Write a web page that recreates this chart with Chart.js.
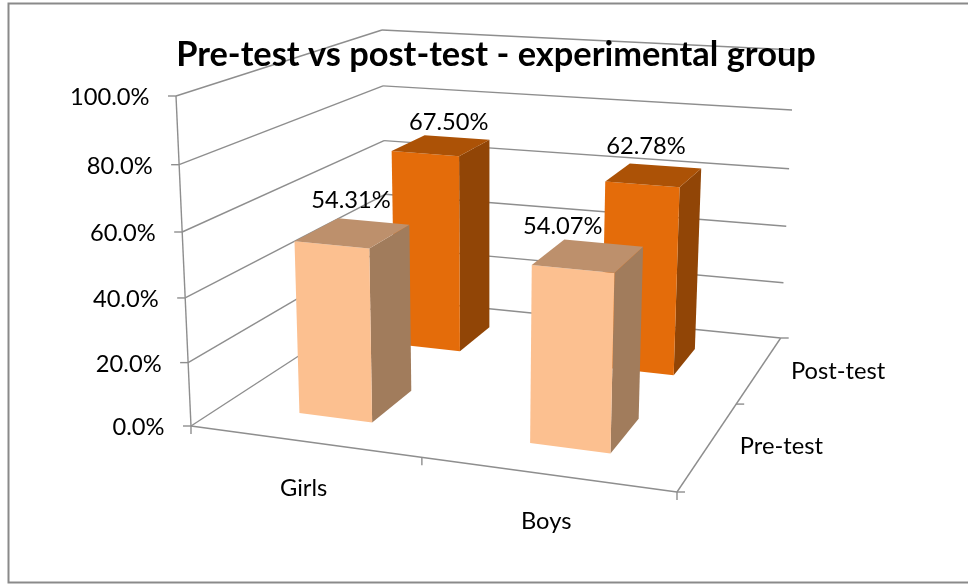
<!DOCTYPE html>
<html>
<head>
<meta charset="utf-8">
<style>
  html, body { margin: 0; padding: 0; background: #fff; }
  canvas { display: block; }
</style>
</head>
<body>
<canvas id="chart" width="968" height="584"></canvas>
<script src="https://cdn.jsdelivr.net/npm/chart.js@4/dist/chart.umd.min.js"></script>
<script>
const categories = ["Girls", "Boys"];
const preTest = [54.31, 54.07];
const postTest = [67.5, 62.78];
const chartTitle = "Pre-test vs post-test - experimental group";

// the 3D box: corners of floor and of the top plane, [front-left, front-right, back-right, back-left]
const floorBox = [[191, 426], [677, 492], [780.7, 338], [387, 298.5]];
const topBox = [[176, 96], [688.5, 132], [795, 50], [382, 30]];
const uPersp = 0.905;
const dPersp = 1.33;
const vPersp = 0.049;
const depthWidth = 0.205;
const barNudge = 0.002;
const depthNudge = -0.008;

const fontName = "Lato, Carlito, 'Open Sans', sans-serif";
const labelFont = "23.7px " + fontName;
const lineGrey = "#8e8e8e";
const faces = [
  { front: "#fcc090", side: "#a17c5c", top: "#bd906c" },
  { front: "#e46c0a", side: "#914506", top: "#ac5206" },
];
// hand placement of the value labels, relative to the middle of each bar top
const labelShift = [
  [[-3, -32], [-26, -28]],
  [[7, -22], [-8, -28]],
];

function warp(t, k) {
  return (k * t) / (1 + (k - 1) * t);
}

function onPlane(box, u, d) {
  const pick = (i) =>
    box[0][i] * (1 - u) * (1 - d) +
    box[1][i] * u * (1 - d) +
    box[2][i] * u * d +
    box[3][i] * (1 - u) * d;
  return [pick(0), pick(1)];
}

// u across the categories, d into the depth, v as 0..1 of the value axis
function project(u, d, v) {
  const uu = warp(u, uPersp);
  const dd = warp(d, dPersp);
  const t = (v * (1 - vPersp)) / (1 - vPersp * v);
  const a = onPlane(floorBox, uu, dd);
  const b = onPlane(topBox, uu, dd);
  return [a[0] + (b[0] - a[0]) * t, a[1] + (b[1] - a[1]) * t];
}

function valueFraction(chart, value) {
  const y = chart.scales.y;
  return (y.bottom - y.getPixelForValue(value)) / (y.bottom - y.top);
}

function polygon(ctx, pts, fill) {
  ctx.beginPath();
  pts.forEach((p, i) => (i ? ctx.lineTo(p[0], p[1]) : ctx.moveTo(p[0], p[1])));
  ctx.closePath();
  ctx.fillStyle = fill;
  ctx.fill();
}

function line(ctx, a, b) {
  ctx.beginPath();
  ctx.moveTo(a[0], a[1]);
  ctx.lineTo(b[0], b[1]);
  ctx.stroke();
}

const walls = {
  id: "walls",
  beforeDraw(chart) {
    const ctx = chart.ctx;
    ctx.save();
    ctx.strokeStyle = "#8a8a8a";
    ctx.lineWidth = 2;
    ctx.strokeRect(8.5, 3.5, 980, 579);

    ctx.strokeStyle = lineGrey;
    ctx.lineWidth = 1.4;
    chart.scales.y.ticks.forEach((tick) => {
      const v = valueFraction(chart, tick.value);
      const front = project(0, 0, v);
      const back = project(0, 1, v);
      line(ctx, front, back);
      line(ctx, back, project(1, 1, v));
      line(ctx, front, [front[0] - 8, front[1]]);
    });
    line(ctx, project(0, 0, 0), project(0, 0, 1));
    line(ctx, project(0, 0, 0), project(1, 0, 0));
    line(ctx, project(1, 0, 0), project(1, 1, 0));

    [0, 0.5, 1].forEach((t) => {
      const a = project(t, 0, 0);
      line(ctx, a, [a[0], a[1] + 8]);
      const b = project(1, t, 0);
      line(ctx, b, [b[0] + 8, b[1]]);
    });
    ctx.restore();
  },
  beforeDatasetDraw(chart, args) {
    const ctx = chart.ctx;
    const area = chart.chartArea;
    const colours = faces[args.index];
    const nDepth = chart.data.datasets.length;
    const dMid = (args.index + 0.5) / nDepth + depthNudge;
    const d0 = dMid - depthWidth / 2;
    const d1 = dMid + depthWidth / 2;
    args.meta.data.forEach((bar, i) => {
      const u0 = (bar.x - bar.width / 2 - area.left) / area.width + barNudge;
      const u1 = (bar.x + bar.width / 2 - area.left) / area.width + barNudge;
      const v = valueFraction(chart, chart.data.datasets[args.index].data[i]);
      polygon(ctx, [project(u1, d0, 0), project(u1, d1, 0), project(u1, d1, v), project(u1, d0, v)], colours.side);
      polygon(ctx, [project(u0, d0, 0), project(u1, d0, 0), project(u1, d0, v), project(u0, d0, v)], colours.front);
      polygon(ctx, [project(u0, d0, v), project(u1, d0, v), project(u1, d1, v), project(u0, d1, v)], colours.top);
    });
    return false;
  },
  afterDatasetsDraw(chart) {
    const ctx = chart.ctx;
    const area = chart.chartArea;
    const xs = chart.scales.x;
    ctx.save();
    ctx.fillStyle = "#000";
    ctx.font = labelFont;
    ctx.textBaseline = "middle";

    // value axis labels
    ctx.textAlign = "right";
    chart.scales.y.ticks.forEach((tick) => {
      const p = project(0, 0, valueFraction(chart, tick.value));
      ctx.fillText(tick.label, p[0] - 26.5, p[1] + 1.5);
    });

    // category and depth labels
    ctx.textAlign = "center";
    categories.forEach((name, i) => {
      const p = project((xs.getPixelForValue(i) - area.left) / area.width, 0, 0);
      ctx.fillText(name, p[0], p[1] + 47);
    });
    ctx.textAlign = "left";
    chart.data.datasets.forEach((ds, k) => {
      const p = project(1, (k + 0.5) / chart.data.datasets.length, 0);
      ctx.fillText(ds.label, p[0] + 31, p[1] + 2);
    });

    // value labels
    ctx.textAlign = "center";
    chart.data.datasets.forEach((ds, k) => {
      const dMid = (k + 0.5) / chart.data.datasets.length;
      chart.getDatasetMeta(k).data.forEach((bar, i) => {
        const u = (bar.x - area.left) / area.width;
        const p = project(u, dMid, valueFraction(chart, ds.data[i]));
        ctx.fillText(ds.data[i].toFixed(2) + "%", p[0] + labelShift[k][i][0], p[1] + labelShift[k][i][1]);
      });
    });
    ctx.restore();
  },
};

new Chart(document.getElementById("chart").getContext("2d"), {
  type: "bar",
  data: {
    labels: categories,
    datasets: [
      { label: "Pre-test", data: preTest, backgroundColor: faces[0].front },
      { label: "Post-test", data: postTest, backgroundColor: faces[1].front },
    ],
  },
  options: {
    responsive: false,
    animation: false,
    layout: { padding: { left: 24 } },
    datasets: { bar: { grouped: false, categoryPercentage: 1, barPercentage: 0.326 } },
    scales: {
      x: { display: false },
      y: {
        display: false,
        min: 0,
        max: 100,
        ticks: { stepSize: 20, autoSkip: false, callback: (v) => v.toFixed(1) + "%" },
      },
    },
    plugins: {
      legend: { display: false },
      tooltip: { enabled: false },
      title: {
        display: true,
        text: chartTitle,
        color: "#000",
        font: { family: fontName, size: 34.4, weight: "bold" },
        padding: { top: 34, bottom: 10 },
      },
    },
  },
  plugins: [walls],
});
</script>
</body>
</html>
